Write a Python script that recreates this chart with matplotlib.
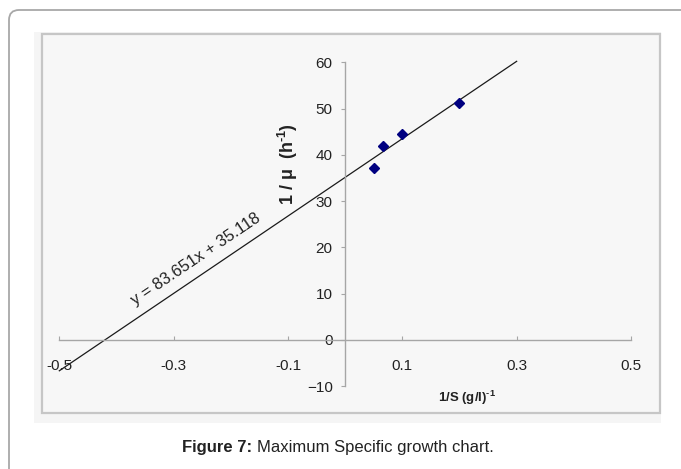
import numpy as np
import matplotlib
matplotlib.use("Agg")
import matplotlib.pyplot as plt
from matplotlib.patches import Rectangle, FancyBboxPatch
from matplotlib.transforms import IdentityTransform

plt.rcParams['font.family'] = ['Liberation Sans', 'DejaVu Sans']
plt.rcParams['mathtext.fontset'] = 'custom'
plt.rcParams['mathtext.rm'] = 'Liberation Sans:bold'
plt.rcParams['mathtext.bf'] = 'Liberation Sans:bold'

# data
inv_s = [0.05, 0.0667, 0.1, 0.2]
inv_mu = [37.2, 42.0, 44.6, 51.2]
slope = 83.651
intercept = 35.118
trend_x = [-0.5, 0.3]
x_ticks = [-0.5, -0.3, -0.1, 0.1, 0.3, 0.5]
y_ticks = [-10, 0, 10, 20, 30, 40, 50, 60]

W, H = 681, 469
fig = plt.figure(figsize=(W / 100, H / 100), dpi=100)

def px(x, y):
    # top-left pixel coords -> display coords
    return x, H - y

# card border with rounded corner
card = FancyBboxPatch(px(9, 500), 720, 490, boxstyle="round,pad=0,rounding_size=10",
                      transform=IdentityTransform(), facecolor='white',
                      edgecolor='#a8a8a8', lw=1.3, zorder=-10)
fig.patches.append(card)
# chart picture background
fig.patches.append(Rectangle(px(34, 423), 627, 391, transform=IdentityTransform(),
                             facecolor='#f5f5f5', edgecolor='none', zorder=-9))
fig.patches.append(Rectangle(px(42, 413), 618, 379, transform=IdentityTransform(),
                             facecolor='#f7f7f7', edgecolor='#c6c6c6', lw=1.6, zorder=-8))

ax = fig.add_axes([59.3 / W, 1 - 386 / H, (631 - 59.3) / W, (386 - 62.3) / H])
ax.patch.set_visible(False)

xs = np.array(trend_x)
ax.plot(xs, slope * xs + intercept, color='#1a1a1a', lw=0.9, clip_on=False, zorder=2)
ax.plot(inv_s, inv_mu, linestyle='none', marker='D', markersize=5.5,
        color='#000080', zorder=3)

ax.set_xlim(-0.5, 0.5)
ax.set_ylim(-10, 60)
ax.spines['left'].set_position(('data', 0))
ax.spines['bottom'].set_position(('data', 0))
ax.spines['top'].set_visible(False)
ax.spines['right'].set_visible(False)
for s in ['left', 'bottom']:
    ax.spines[s].set_color('#a6a6a6')
    ax.spines[s].set_linewidth(1.0)

ax.set_xticks(x_ticks)
ax.set_xticklabels([f"{v:g}" for v in x_ticks])
ax.set_yticks(y_ticks)
ax.tick_params(axis='x', direction='in', length=3, width=0.8, color='#a6a6a6',
               labelsize=11, labelcolor='#222222', pad=14)
ax.tick_params(axis='y', direction='out', length=3, width=0.8, color='#a6a6a6',
               labelsize=11, labelcolor='#222222', pad=6)

ax.text(-0.261, 17.4, "y = 83.651x + 35.118", rotation=34, rotation_mode='anchor',
        ha='center', va='center', fontsize=11.8, color='#222222')

fig.text(288 / W, 1 - 164 / H, r"1 / μ  (h$^{\text{-1}}$)", rotation=90,
         ha='center', va='center', fontsize=13, fontweight='bold', color='#222222')
fig.text(467 / W, 1 - 398 / H, r"1/S (g/l)$^{\text{-1}}$",
         ha='center', va='center', fontsize=9.5, fontweight='bold', color='#222222')

fig.text(252 / W, 1 - 447 / H, "Figure 7:", ha='right', va='center',
         fontsize=12, fontweight='bold', color='#222222')
fig.text(257 / W, 1 - 447 / H, "Maximum Specific growth chart.", ha='left',
         va='center', fontsize=12, color='#222222')

fig.savefig("out.png", dpi=100)
